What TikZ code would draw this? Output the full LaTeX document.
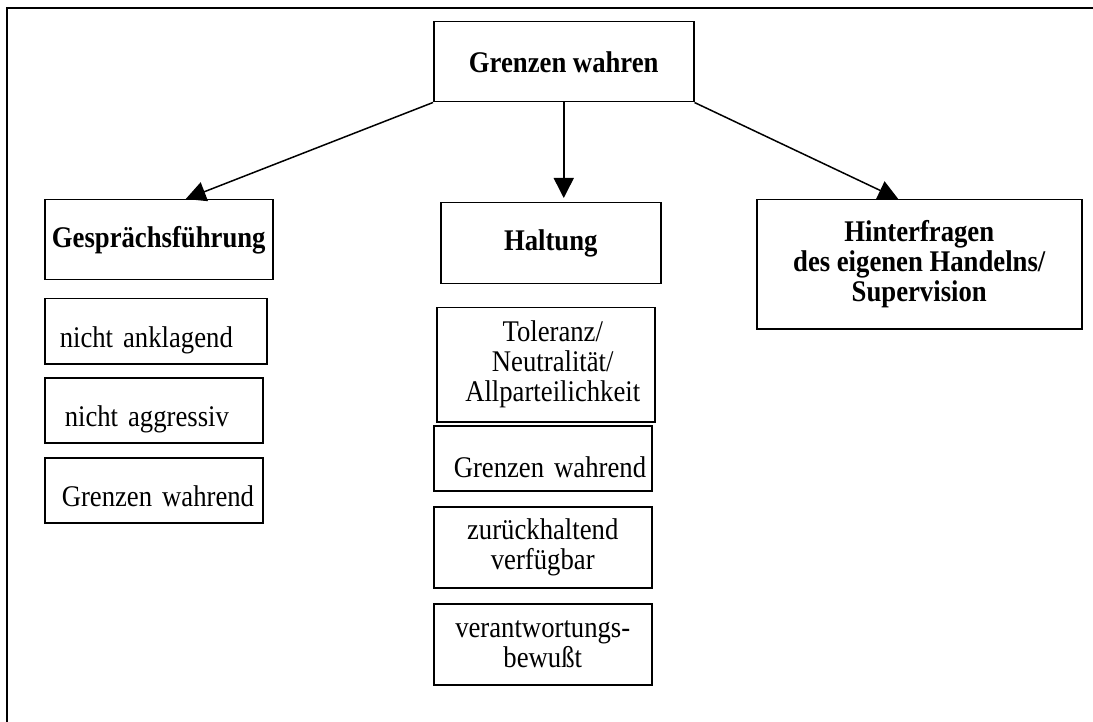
\documentclass[tikz,border=0pt]{standalone}
\usepackage{fontspec}
\setmainfont{Liberation Serif}[FakeStretch=0.89]
\usetikzlibrary{arrows.meta, positioning}

\begin{document}
\begin{tikzpicture}[x=1pt, y=-1pt, line width=1.5pt,
        box/.style={draw, anchor=north west, inner sep=0pt, align=center, font=\fontsize{30}{30}\selectfont\bfseries},
        plainbox/.style={draw, anchor=north west, inner sep=0pt, align=center, font=\fontsize{30}{30}\selectfont},
        item/.style={draw, anchor=north west, inner ysep=0pt, inner xsep=2pt, text height=49pt, text depth=16pt, align=left, font=\fontsize{30}{30}\selectfont},
        arr/.style={-{Triangle[length=20pt,width=20pt]}}]
        \useasboundingbox (0,0) rectangle (1093,722);
        \draw (7,722) -- (7,8) -- (1093,8);

        \node[box, minimum width=260pt, minimum height=80pt] (wahren) at (433,21) {Grenzen wahren};
        \node[box, minimum width=228pt, minimum height=80pt] (gf) at (44,199) {Gesprächsführung};
        \node[box, minimum width=220pt, minimum height=81pt] (halt) at (440,202) {Haltung};
        \node[box, minimum width=325pt, minimum height=129pt] (hinter) at (756,199) {Hinterfragen\\des eigenen Handelns/\\Supervision};

        \node[item, text width=218pt] (gf1) at (44,298) {\hspace*{13pt}nicht anklagend};
        \node[item, text width=214pt] (gf2) at (44,377) {\hspace*{18pt}nicht aggressiv};
        \node[item, text width=214pt] (gf3) at (44,457) {\hspace*{15pt}Grenzen wahrend};

        \node[plainbox, minimum width=218pt, minimum height=114pt] (ha1) at (436,307) {\hspace*{14pt}Toleranz/\\\hspace*{14pt}Neutralität/\\\hspace*{14pt}Allparteilichkeit};
        \node[item, text width=214pt, text height=52pt, text depth=13pt] (ha2) at (433,425) {\hspace*{18pt}Grenzen wahrend};
        \node[plainbox, minimum width=218pt, minimum height=81pt] (ha3) at (433,506) {zurückhaltend\\verfügbar};
        \node[plainbox, minimum width=218pt, minimum height=81pt] (ha4) at (433,603) {verantwortungs-\\bewußt};

        \draw[arr] (wahren.south west) -- ([xshift=27pt]gf.north);
        \draw[arr, shorten >=4pt] (wahren.south) -- (wahren.south |- halt.north);
        \draw[arr] (wahren.south east) -- ([xshift=-21pt]hinter.north);
\end{tikzpicture}
\end{document}
